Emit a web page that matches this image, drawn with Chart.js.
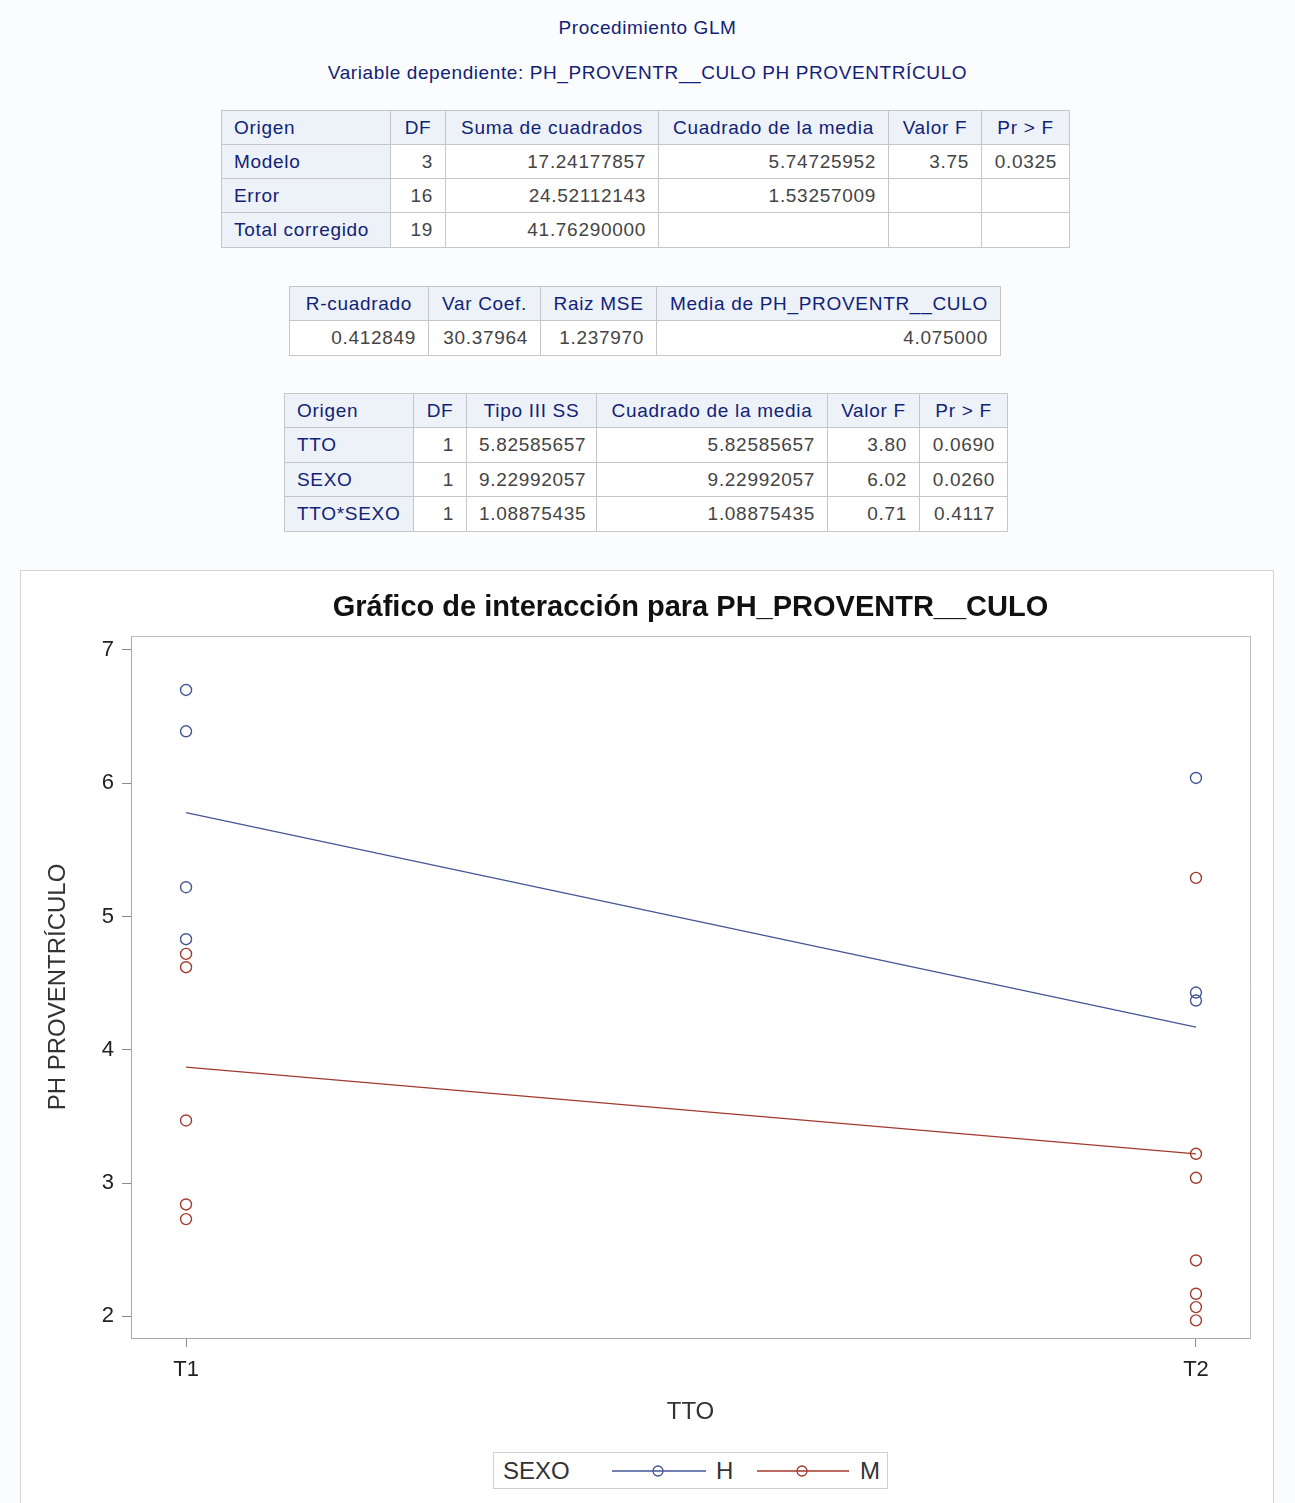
<!DOCTYPE html>
<html lang="es">
<head>
<meta charset="utf-8">
<title>Procedimiento GLM</title>
<script src="https://cdn.jsdelivr.net/npm/chart.js@4.4.1/dist/chart.umd.min.js"></script>
<style>
  html, body { margin: 0; padding: 0; }
  body {
    width: 1295px; height: 1503px; overflow: hidden; position: relative;
    background: #fbfcfe;
    font-family: "Liberation Sans", Arial, sans-serif;
  }
  .proc {
    position: absolute; left: 0; width: 1295px; text-align: center;
    color: #112277; font-size: 19px; letter-spacing: 0.6px; line-height: 22px;
  }
  table.sas {
    position: absolute; border-collapse: collapse; table-layout: fixed;
    font-size: 19px; letter-spacing: 0.7px; border: 1px solid #b9b9b9;
    background: #fff;
  }
  table.sas th, table.sas td {
    border: 1px solid #c6c6c6; padding: 0 12px; white-space: nowrap;
    font-weight: normal; overflow: hidden;
  }
  table.sas th { background: #edf2f9; color: #112277; text-align: center; }
  table.sas th.rh { text-align: left; }
  table.sas td { color: #444; text-align: right; }
  #chartBox {
    position: absolute; left: 20px; top: 570px; width: 1252px; height: 960px;
    background: #fff; border: 1px solid #d4d4d4;
  }
  #chart { position: absolute; left: 21px; top: 571px; }
  #legend {
    position: absolute; left: 493px; top: 1452px; width: 393px; height: 35px;
    border: 1px solid #cfcfcf; background: #fff; color: #333;
    font-size: 24px; line-height: 35px;
  }
  #legend span, #legend svg { position: absolute; top: 0; }
  #legend svg { top: 8px; }
</style>
</head>
<body>

<div class="proc" style="top:17px;">Procedimiento GLM</div>
<div class="proc" style="top:62px;">Variable dependiente: PH_PROVENTR__CULO PH PROVENTRÍCULO</div>

<table class="sas" style="left:221px; top:110px; width:848px;">
  <colgroup><col style="width:169px"><col style="width:55px"><col style="width:213px"><col style="width:230px"><col style="width:93px"><col style="width:88px"></colgroup>
  <tr style="height:34px"><th class="rh">Origen</th><th>DF</th><th>Suma de cuadrados</th><th>Cuadrado de la media</th><th>Valor F</th><th>Pr &gt; F</th></tr>
  <tr style="height:34px"><th class="rh">Modelo</th><td>3</td><td>17.24177857</td><td>5.74725952</td><td>3.75</td><td>0.0325</td></tr>
  <tr style="height:34px"><th class="rh">Error</th><td>16</td><td>24.52112143</td><td>1.53257009</td><td></td><td></td></tr>
  <tr style="height:35px"><th class="rh">Total corregido</th><td>19</td><td>41.76290000</td><td></td><td></td><td></td></tr>
</table>

<table class="sas" style="left:289px; top:286px; width:711px;">
  <colgroup><col style="width:139px"><col style="width:112px"><col style="width:116px"><col style="width:344px"></colgroup>
  <tr style="height:34px"><th>R-cuadrado</th><th>Var Coef.</th><th>Raiz MSE</th><th style="text-align:right">Media de PH_PROVENTR__CULO</th></tr>
  <tr style="height:35px"><td>0.412849</td><td>30.37964</td><td>1.237970</td><td>4.075000</td></tr>
</table>

<table class="sas" style="left:284px; top:393px; width:723px;">
  <colgroup><col style="width:129px"><col style="width:53px"><col style="width:130px"><col style="width:231px"><col style="width:92px"><col style="width:88px"></colgroup>
  <tr style="height:34px"><th class="rh">Origen</th><th>DF</th><th>Tipo III SS</th><th>Cuadrado de la media</th><th>Valor F</th><th>Pr &gt; F</th></tr>
  <tr style="height:35px"><th class="rh">TTO</th><td>1</td><td>5.82585657</td><td>5.82585657</td><td>3.80</td><td>0.0690</td></tr>
  <tr style="height:34px"><th class="rh">SEXO</th><td>1</td><td>9.22992057</td><td>9.22992057</td><td>6.02</td><td>0.0260</td></tr>
  <tr style="height:35px"><th class="rh">TTO*SEXO</th><td>1</td><td>1.08875435</td><td>1.08875435</td><td>0.71</td><td>0.4117</td></tr>
</table>

<div id="chartBox"></div>
<canvas id="chart" width="1252" height="870"></canvas>

<div id="legend">
  <span style="left:9px;">SEXO</span>
  <svg style="left:118px;" width="94" height="20"><line x1="0" y1="10" x2="94" y2="10" stroke="#445694" stroke-width="1.3"/><circle cx="46" cy="10" r="5" fill="none" stroke="#445694" stroke-width="1.3"/></svg>
  <span style="left:222px;">H</span>
  <svg style="left:263px;" width="92" height="20"><line x1="0" y1="10" x2="92" y2="10" stroke="#a23a2e" stroke-width="1.3"/><circle cx="45" cy="10" r="5" fill="none" stroke="#a23a2e" stroke-width="1.3"/></svg>
  <span style="left:366px;">M</span>
</div>

<script>
// TTO levels on the x axis
const categories = ['T1', 'T2'];
// Observed PH PROVENTRÍCULO values by SEXO and TTO
const hT1 = [6.70, 6.39, 5.22, 4.83];
const hT2 = [6.04, 4.43, 4.37];
const mT1 = [4.72, 4.62, 3.47, 2.84, 2.73];
const mT2 = [5.29, 3.22, 3.04, 2.42, 2.17, 2.07, 1.97];
// Fitted cell means joined by the interaction lines
const hMeans = [5.78, 4.17];
const mMeans = [3.87, 3.22];
// Y-axis tick values
const yTicks = [2, 3, 4, 5, 6, 7];

const blue = '#445694';
const red = '#a23a2e';

function atLevel(values, level) {
  return values.map(v => ({ x: level, y: v }));
}
function meanLine(means) {
  return means.map((v, i) => ({ x: i, y: v }));
}

const xMin = -0.0545, xMax = 1.0535;
const yMin = 1.838, yMax = 7.105;

const tickFont = { family: 'Liberation Sans', size: 22 };
const axisTitleFont = { family: 'Liberation Sans', size: 24 };

new Chart(document.getElementById('chart'), {
  type: 'scatter',
  data: {
    datasets: [
      { label: 'H obs', data: atLevel(hT1, 0).concat(atLevel(hT2, 1)),
        pointStyle: 'circle', pointRadius: 5.5, borderColor: blue, backgroundColor: 'rgba(0,0,0,0)', borderWidth: 1.4 },
      { label: 'M obs', data: atLevel(mT1, 0).concat(atLevel(mT2, 1)),
        pointStyle: 'circle', pointRadius: 5.5, borderColor: red, backgroundColor: 'rgba(0,0,0,0)', borderWidth: 1.4 },
      { label: 'H', data: meanLine(hMeans), showLine: true, pointRadius: 0,
        borderColor: blue, borderWidth: 1.3 },
      { label: 'M', data: meanLine(mMeans), showLine: true, pointRadius: 0,
        borderColor: red, borderWidth: 1.3 }
    ]
  },
  options: {
    responsive: false,
    animation: false,
    events: [],
    layout: { padding: 0 },
    plugins: { legend: { display: false }, tooltip: { enabled: false }, title: { display: false } },
    scales: {
      x: {
        type: 'linear', position: 'bottom', min: xMin, max: xMax,
        afterBuildTicks: s => { s.ticks = categories.map((_, i) => ({ value: i })); },
        afterFit: s => { s.height = 103; },
        ticks: { callback: v => categories[v], font: tickFont, color: '#222', padding: 10 },
        grid: { display: true, drawOnChartArea: false, drawTicks: true, tickLength: 9, color: '#8a8a8a' },
        border: { display: true, color: '#a8a8a8', width: 1 },
        title: { display: true, text: 'TTO', font: axisTitleFont, color: '#333', padding: { top: 0, bottom: 14 } }
      },
      y: {
        type: 'linear', position: 'left', min: yMin, max: yMax,
        afterBuildTicks: s => { s.ticks = yTicks.map(v => ({ value: v })); },
        afterFit: s => { s.width = 110; },
        ticks: { font: tickFont, color: '#222', padding: 8 },
        grid: { display: true, drawOnChartArea: false, drawTicks: true, tickLength: 9, color: '#8a8a8a' },
        border: { display: true, color: '#a8a8a8', width: 1 },
        title: { display: true, text: 'PH PROVENTRÍCULO', font: axisTitleFont, color: '#333', padding: { top: 23, bottom: 0 } }
      },
      xTop: {
        type: 'linear', position: 'top', min: xMin, max: xMax,
        afterFit: s => { s.height = 65; },
        ticks: { display: false },
        grid: { display: false },
        border: { display: true, color: '#bdbdbd', width: 1 },
        title: { display: true, text: 'Gráfico de interacción para PH_PROVENTR__CULO',
                 font: { family: 'Liberation Sans', size: 29, weight: 'bold' }, color: '#111',
                 padding: { top: 20, bottom: 0 } }
      },
      yRight: {
        type: 'linear', position: 'right', min: yMin, max: yMax,
        afterFit: s => { s.width = 23; },
        ticks: { display: false },
        grid: { display: false },
        border: { display: true, color: '#bdbdbd', width: 1 }
      }
    }
  }
});
</script>
</body>
</html>
